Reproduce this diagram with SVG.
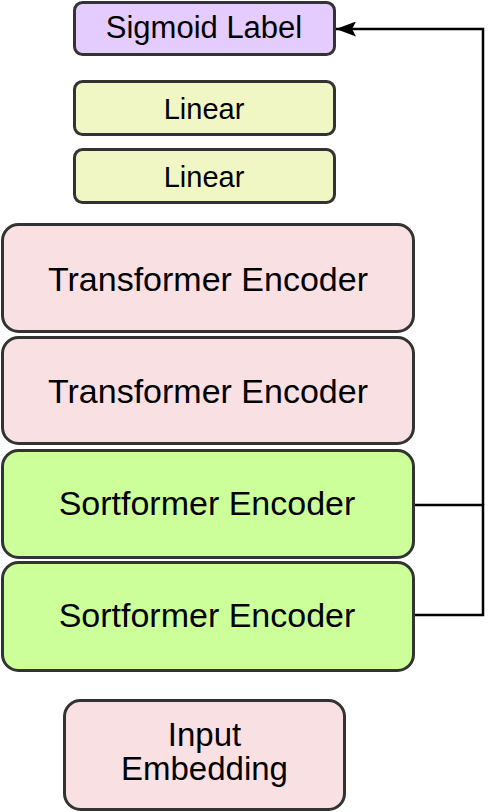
<svg xmlns="http://www.w3.org/2000/svg" width="500" height="812" viewBox="0 0 500 812">
  <defs>
    <marker id="arrow" viewBox="0 0 20 15" refX="20" refY="7.5" markerWidth="20" markerHeight="15" markerUnits="userSpaceOnUse" orient="auto">
      <path d="M0,0 L20,7.5 L0,15 L4,7.5 Z" fill="#000"/>
    </marker>
    <style>
      .box { stroke: #333333; stroke-width: 3; }
      .label { font-family: "Liberation Sans", Arial, sans-serif; fill: #000; text-anchor: middle; }
      .big { font-size: 34px; }
      .mid { font-size: 33px; }
      .small { font-size: 29px; }
      .title { font-size: 31px; }
      .link { fill: none; stroke: #000; stroke-width: 2.5; }
    </style>
  </defs>
  <rect width="500" height="812" fill="#ffffff"/>

  <g id="connectors">
    <polyline class="link" points="414,505 483,505 483,615 414,615"/>
    <polyline class="link" points="483,505 483,29 336,29" marker-end="url(#arrow)"/>
  </g>

  <g id="sigmoid-label">
    <rect class="box" x="74.5" y="2.5" width="260" height="52" rx="8" fill="#e5ccff"/>
    <text class="label title" x="204" y="38">Sigmoid Label</text>
  </g>

  <g id="linear-2">
    <rect class="box" x="74.5" y="81.5" width="260" height="53" rx="8" fill="#f0f7c4"/>
    <text class="label small" x="204" y="119">Linear</text>
  </g>

  <g id="linear-1">
    <rect class="box" x="74.5" y="149.5" width="260" height="53" rx="8" fill="#f0f7c4"/>
    <text class="label small" x="204" y="187">Linear</text>
  </g>

  <g id="transformer-encoder-2">
    <rect class="box" x="2.5" y="224.5" width="411" height="107" rx="16" fill="#f9e0e3"/>
    <text class="label big" x="208" y="291">Transformer Encoder</text>
  </g>

  <g id="transformer-encoder-1">
    <rect class="box" x="2.5" y="337.5" width="411" height="106" rx="16" fill="#f9e0e3"/>
    <text class="label big" x="208" y="403">Transformer Encoder</text>
  </g>

  <g id="sortformer-encoder-2">
    <rect class="box" x="2.5" y="450.5" width="411" height="107" rx="16" fill="#ccff99"/>
    <text class="label big" x="207" y="515">Sortformer Encoder</text>
  </g>

  <g id="sortformer-encoder-1">
    <rect class="box" x="2.5" y="562.5" width="411" height="108" rx="16" fill="#ccff99"/>
    <text class="label big" x="207" y="627">Sortformer Encoder</text>
  </g>

  <g id="input-embedding">
    <rect class="box" x="64.5" y="700.5" width="280" height="109" rx="16" fill="#f9e0e3"/>
    <text class="label mid" x="204.5" y="746">Input</text>
    <text class="label mid" x="204.5" y="780">Embedding</text>
  </g>
</svg>
